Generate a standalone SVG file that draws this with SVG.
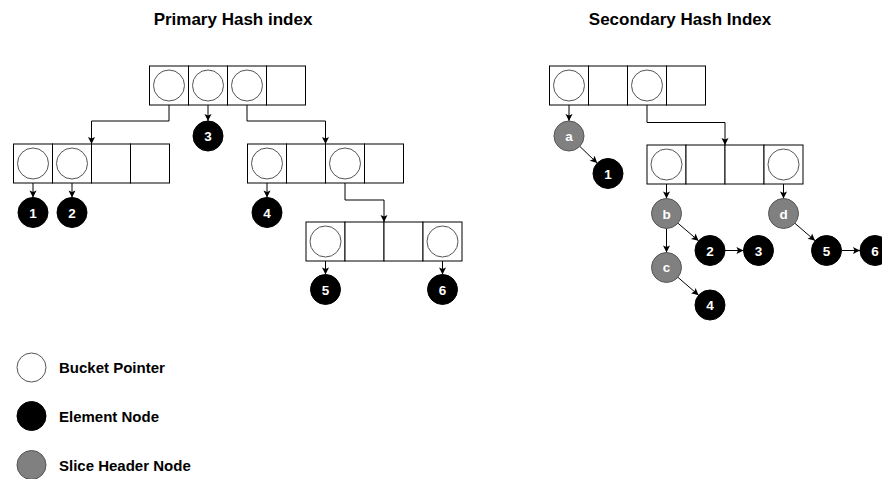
<svg xmlns="http://www.w3.org/2000/svg" width="882" height="479" viewBox="0 0 882 479">
<defs>
<marker id="arr" markerUnits="userSpaceOnUse" markerWidth="8" markerHeight="8" refX="7" refY="3.5" orient="auto" overflow="visible">
<path d="M0,0 L7,3.5 L0,7 L1.5,3.5 z" fill="#000"/>
</marker>
<style>
.cell{fill:#fff;stroke:#000;stroke-width:1}
.bp{fill:#fff;stroke:#555;stroke-width:1}
.el{fill:#000;stroke:#000;stroke-width:1}
.sh{fill:#808080;stroke:#555;stroke-width:1}
.lbl{font-family:"Liberation Sans",Arial,sans-serif;font-weight:bold;font-size:13.5px;fill:#fff;text-anchor:middle}
.title{font-family:"Liberation Sans",Arial,sans-serif;font-weight:bold;font-size:17px;fill:#000;text-anchor:middle}
.leg{font-family:"Liberation Sans",Arial,sans-serif;font-weight:bold;font-size:15px;fill:#000}
.c{fill:none;stroke:#000;stroke-width:1;marker-end:url(#arr)}
</style>
</defs>
<rect width="882" height="479" fill="#fff"/>

<text class="title" x="233" y="25">Primary Hash index</text>
<text class="title" x="680" y="25">Secondary Hash Index</text>

<g id="connectors">
<path class="c" d="M169,101.5 V121 H91.5 V144"/>
<path class="c" d="M208,101.5 V121"/>
<path class="c" d="M247,101.5 V121 H325.5 V144"/>
<path class="c" d="M33,179.5 V197.5"/>
<path class="c" d="M72,179.5 V197.5"/>
<path class="c" d="M267,179.5 V197.5"/>
<path class="c" d="M345,179.5 V200 H384 V222"/>
<path class="c" d="M325.5,257.5 V274.5"/>
<path class="c" d="M442.5,257.5 V274.5"/>
<path class="c" d="M569,101.5 V121"/>
<path class="c" d="M579.8,146.4 L597.2,163.1"/>
<path class="c" d="M647,101.5 V122.5 H725 V145"/>
<path class="c" d="M666.5,180.5 V198.5"/>
<path class="c" d="M783.5,180.5 V198.5"/>
<path class="c" d="M666.5,228.5 V252.5"/>
<path class="c" d="M677.9,223.2 L698.6,240.8"/>
<path class="c" d="M725,250.5 H743.5"/>
<path class="c" d="M677.9,277.3 L698.6,295.2"/>
<path class="c" d="M794.9,223.3 L815.1,240.7"/>
<path class="c" d="M841.5,250.5 H860"/>
</g>

<g id="p-top">
<rect class="cell" x="149.5" y="66" width="39" height="39"/>
<rect class="cell" x="188.5" y="66" width="39" height="39"/>
<rect class="cell" x="227.5" y="66" width="39" height="39"/>
<rect class="cell" x="266.5" y="66" width="39" height="39"/>
<circle class="bp" cx="169" cy="85.5" r="15.5"/>
<circle class="bp" cx="208" cy="85.5" r="15.5"/>
<circle class="bp" cx="247" cy="85.5" r="15.5"/>
</g>
<g id="p-left">
<rect class="cell" x="13.5" y="144" width="39" height="39"/>
<rect class="cell" x="52.5" y="144" width="39" height="39"/>
<rect class="cell" x="91.5" y="144" width="39" height="39"/>
<rect class="cell" x="130.5" y="144" width="39" height="39"/>
<circle class="bp" cx="33" cy="163.5" r="15.5"/>
<circle class="bp" cx="72" cy="163.5" r="15.5"/>
</g>
<g id="p-right">
<rect class="cell" x="247.5" y="144" width="39" height="39"/>
<rect class="cell" x="286.5" y="144" width="39" height="39"/>
<rect class="cell" x="325.5" y="144" width="39" height="39"/>
<rect class="cell" x="364.5" y="144" width="39" height="39"/>
<circle class="bp" cx="267" cy="163.5" r="15.5"/>
<circle class="bp" cx="345" cy="163.5" r="15.5"/>
</g>
<g id="p-bottom">
<rect class="cell" x="306" y="222" width="39" height="39"/>
<rect class="cell" x="345" y="222" width="39" height="39"/>
<rect class="cell" x="384" y="222" width="39" height="39"/>
<rect class="cell" x="423" y="222" width="39" height="39"/>
<circle class="bp" cx="325.5" cy="241.5" r="15.5"/>
<circle class="bp" cx="442.5" cy="241.5" r="15.5"/>
</g>
<g id="p-n1"><circle class="el" cx="33" cy="212.5" r="15"/><text class="lbl" x="33" y="217.5">1</text></g>
<g id="p-n2"><circle class="el" cx="72" cy="212.5" r="15"/><text class="lbl" x="72" y="217.5">2</text></g>
<g id="p-n3"><circle class="el" cx="208" cy="136" r="15"/><text class="lbl" x="208" y="141">3</text></g>
<g id="p-n4"><circle class="el" cx="267" cy="212.5" r="15"/><text class="lbl" x="267" y="217.5">4</text></g>
<g id="p-n5"><circle class="el" cx="325.5" cy="289.5" r="15"/><text class="lbl" x="325.5" y="294.5">5</text></g>
<g id="p-n6"><circle class="el" cx="442.5" cy="289.5" r="15"/><text class="lbl" x="442.5" y="294.5">6</text></g>

<g id="s-top">
<rect class="cell" x="549.5" y="66" width="39" height="39"/>
<rect class="cell" x="588.5" y="66" width="39" height="39"/>
<rect class="cell" x="627.5" y="66" width="39" height="39"/>
<rect class="cell" x="666.5" y="66" width="39" height="39"/>
<circle class="bp" cx="569" cy="85.5" r="15.5"/>
<circle class="bp" cx="647" cy="85.5" r="15.5"/>
</g>
<g id="s-second">
<rect class="cell" x="647" y="145" width="39" height="39"/>
<rect class="cell" x="686" y="145" width="39" height="39"/>
<rect class="cell" x="725" y="145" width="39" height="39"/>
<rect class="cell" x="764" y="145" width="39" height="39"/>
<circle class="bp" cx="666.5" cy="164.5" r="15.5"/>
<circle class="bp" cx="783.5" cy="164.5" r="15.5"/>
</g>
<g id="s-a"><circle class="sh" cx="569" cy="136" r="15"/><text class="lbl" x="569" y="140.5">a</text></g>
<g id="s-n1"><circle class="el" cx="608" cy="173.5" r="15"/><text class="lbl" x="608" y="178.5">1</text></g>
<g id="s-b"><circle class="sh" cx="666.5" cy="213.5" r="15"/><text class="lbl" x="666.5" y="218.5">b</text></g>
<g id="s-d"><circle class="sh" cx="783.5" cy="213.5" r="15"/><text class="lbl" x="783.5" y="218.5">d</text></g>
<g id="s-c"><circle class="sh" cx="666.5" cy="267.5" r="15"/><text class="lbl" x="666.5" y="272">c</text></g>
<g id="s-n2"><circle class="el" cx="710" cy="250.5" r="15"/><text class="lbl" x="710" y="255.5">2</text></g>
<g id="s-n3"><circle class="el" cx="758.5" cy="250.5" r="15"/><text class="lbl" x="758.5" y="255.5">3</text></g>
<g id="s-n4"><circle class="el" cx="710" cy="305" r="15"/><text class="lbl" x="710" y="310">4</text></g>
<g id="s-n5"><circle class="el" cx="826.5" cy="250.5" r="15"/><text class="lbl" x="826.5" y="255.5">5</text></g>
<g id="s-n6"><circle class="el" cx="875" cy="250.5" r="15"/><text class="lbl" x="875" y="255.5">6</text></g>

<g id="legend">
<circle class="bp" cx="31.5" cy="367.5" r="14.5"/>
<text class="leg" x="59" y="373">Bucket Pointer</text>
<circle class="el" cx="31.5" cy="416" r="14.5"/>
<text class="leg" x="59" y="422">Element Node</text>
<circle class="sh" cx="31.5" cy="465" r="14.5"/>
<text class="leg" x="59" y="471">Slice Header Node</text>
</g>
</svg>
